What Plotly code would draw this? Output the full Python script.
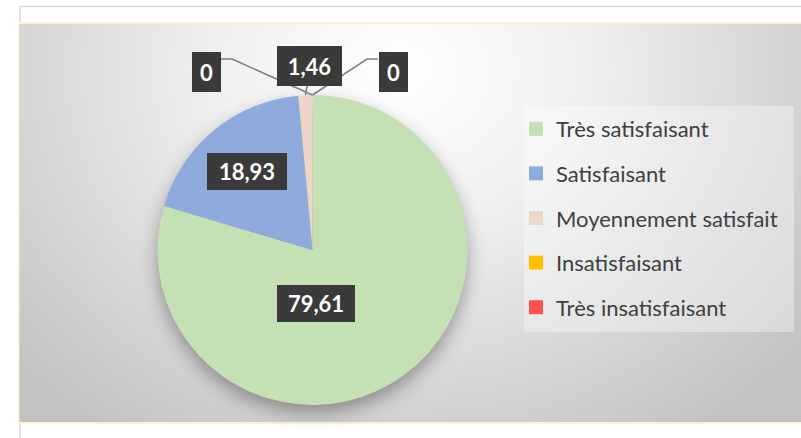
import base64
import math
import plotly.graph_objects as go

# ---------------- data ----------------
categories = ["Très satisfaisant", "Satisfaisant", "Moyennement satisfait",
              "Insatisfaisant", "Très insatisfaisant"]
values = [79.61, 18.93, 1.46, 0, 0]
colors = ["#C5E0B4", "#8FAADC", "#EBD6C8", "#FFC000", "#FF5050"]

# ---------------- layout helpers ----------------
W, H = 801, 438
CX, CY, R = 312.5, 250.0, 155.0  # pie centre / radius in px


def px(x):
    return x / W


def py(y):
    return 1 - y / H


def fmt(v):
    return (f"{v:.2f}".rstrip("0").rstrip(".")).replace(".", ",") if v else "0"


# label box centre positions (px) and box sizes
label_pos = [(316, 303.5), (247, 171), (309.5, 66), (206, 72), (393, 72)]
label_w = [66, 68, 53, 17, 17]
label_h = [25, 25, 28, 28, 28]
# leader line elbows (box edge point, elbow) for small slices
leaders = {2: [(307, 86)], 3: [(221, 59), (232, 59)], 4: [(378, 59), (367, 59)]}

# ---------------- background (svg) ----------------
svg = f'''<svg xmlns="http://www.w3.org/2000/svg" width="{W}" height="{H}" viewBox="0 0 {W} {H}">
<defs>
<radialGradient id="g" gradientUnits="userSpaceOnUse" cx="400" cy="70" r="520" gradientTransform="translate(400 70) scale(1 0.85) translate(-400 -70)">
<stop offset="0" stop-color="#ffffff"/>
<stop offset="0.35" stop-color="#f0f0f0"/>
<stop offset="1" stop-color="#c2c2c2"/>
</radialGradient>
<filter id="b" x="-30%" y="-30%" width="160%" height="160%"><feGaussianBlur stdDeviation="9"/></filter>
</defs>
<rect x="0" y="0" width="{W}" height="{H}" fill="#ffffff"/>
<rect x="20" y="6.5" width="800" height="460" fill="none" stroke="#d9d9d9" stroke-width="1.5"/>
<rect x="18" y="22" width="800" height="402" fill="#FFF2CC"/>
<rect x="19.5" y="24" width="800" height="398" fill="url(#g)"/>
<circle cx="{CX}" cy="{CY + 8}" r="{R}" fill="#000000" opacity="0.33" filter="url(#b)"/>
<rect x="524" y="106" width="270" height="226" fill="#ffffff" opacity="0.35"/>
</svg>'''
src = "data:image/svg+xml;base64," + base64.b64encode(svg.encode()).decode()

fig = go.Figure()

fig.add_trace(go.Pie(
    labels=categories, values=values, sort=False, direction="clockwise",
    rotation=0, marker=dict(colors=colors, line=dict(width=0)),
    textinfo="none", hoverinfo="label+value", showlegend=False,
    domain=dict(x=[px(CX - R), px(CX + R)], y=[py(CY + R), py(CY - R)]),
))

for cat, col in zip(categories, colors):
    fig.add_trace(go.Scatter(
        x=[None], y=[None], mode="markers", name=cat, legendgroup=cat,
        marker=dict(symbol="square", size=14, color=col, line=dict(width=0)),
    ))

# annotations (value labels) and leader lines
total = sum(values)
cum = 0.0
annotations = []
shapes = []
for i, v in enumerate(values):
    mid = (cum + v / 2) / total * 2 * math.pi
    cum += v
    ax, ay = CX + R * math.sin(mid), CY - R * math.cos(mid)
    lx, ly = label_pos[i]
    if i in leaders:
        pts = leaders[i] + [(ax, ay)]
        path = "M " + " L ".join(f"{px(x)} {py(y)}" for x, y in pts)
        shapes.append(dict(type="path", xref="paper", yref="paper", path=path,
                           line=dict(color="#7f7f7f", width=1.5), layer="above"))
    annotations.append(dict(
        x=px(lx), y=py(ly), xref="paper", yref="paper", showarrow=False,
        text=f"<b>{fmt(v)}</b>", xanchor="center", yanchor="middle",
        font=dict(family="Lato", size=22, color="#ffffff"),
        bgcolor="#3a3a3a", borderpad=6, borderwidth=0,
        width=label_w[i], height=label_h[i], align="center", valign="middle",
    ))

fig.update_layout(
    width=W, height=H, margin=dict(l=0, r=0, t=0, b=0),
    paper_bgcolor="#ffffff", plot_bgcolor="rgba(0,0,0,0)",
    images=[dict(source=src, xref="paper", yref="paper", x=0, y=1,
                 sizex=1, sizey=1, sizing="stretch", xanchor="left",
                 yanchor="top", layer="below")],
    xaxis=dict(visible=False), yaxis=dict(visible=False),
    legend=dict(x=px(516), y=py(108), xanchor="left", yanchor="top",
                bgcolor="rgba(0,0,0,0)", tracegroupgap=13,
                font=dict(family="Lato", size=22, color="#404040"),
                itemsizing="trace"),
    annotations=annotations, shapes=shapes,
    font=dict(family="Lato"),
)

fig.write_html("out.html")
